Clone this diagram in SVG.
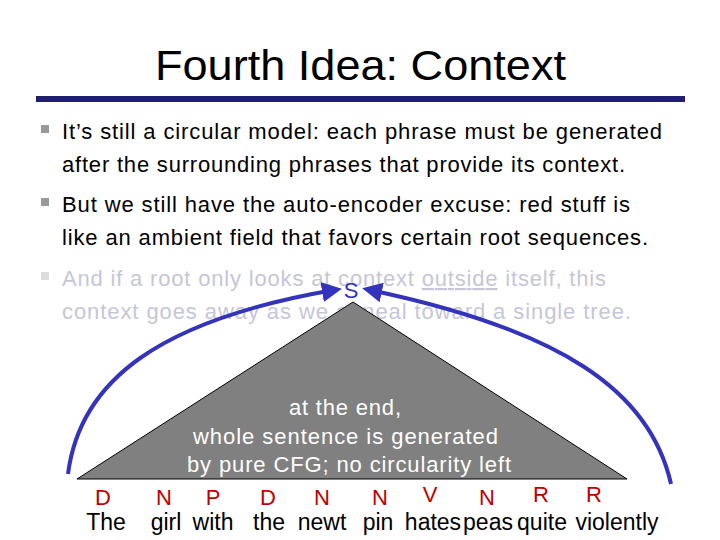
<svg xmlns="http://www.w3.org/2000/svg" width="720" height="540" viewBox="0 0 720 540">
<style>
text{font-family:"Liberation Sans",Arial,sans-serif}
.b{font-size:22px;fill:#000}
.f{font-size:22px;fill:#c6c6d8}
.bul{fill:#999}
.t{font-size:22px;fill:#c00000;text-anchor:middle}
.w{font-size:23px;fill:#000;text-anchor:middle}
.in{font-size:22px;fill:#fff}
.arr{fill:none;stroke:#3333bb;stroke-width:4}
</style>
<defs><marker id="ah" markerWidth="5" markerHeight="5" refX="3" refY="2.5" orient="auto"><path d="M0,0L5,2.5L0,5z" fill="#3333bb"/></marker></defs>
<rect width="720" height="540" fill="#fff"/>
<g id="title"><text x="155" y="80" font-size="43" textLength="411" lengthAdjust="spacingAndGlyphs">Fourth Idea:  Context</text>
<rect x="36" y="96" width="649" height="6" fill="#1f1f6e"/></g>
<g id="bullets">
<rect class="bul" x="41" y="125" width="8" height="8"/>
<text class="b" x="62" y="139" textLength="600">It’s still a circular model: each phrase must be generated</text>
<text class="b" x="62" y="172" textLength="563">after the surrounding phrases that provide its context.</text>
<rect class="bul" x="41" y="198" width="8" height="8"/>
<text class="b" x="62" y="212" textLength="568">But we still have the auto-encoder excuse: red stuff is</text>
<text class="b" x="62" y="245" textLength="586">like an ambient field that favors certain root sequences.</text>
<rect x="41" y="272" width="8" height="8" fill="#ddd"/>
<text class="f" x="62" y="286" textLength="544">And if a root only looks at context <tspan text-decoration="underline">outside</tspan> itself, this</text>
<text class="f" x="62" y="319" textLength="569">context goes away as we anneal toward a single tree.</text>
</g>
<g id="connectors">
<path class="arr" d="M68,474 C80,380 160,320 334,290" marker-end="url(#ah)"/>
<path class="arr" d="M671,484 C650,390 560,330 370,290" marker-end="url(#ah)"/>
</g>
<g id="tree">
<polygon points="353,302 77,479 627,479" fill="#808080" stroke="#000" stroke-width="1"/>
<text class="in" x="289" y="415" textLength="112">at the end,</text>
<text class="in" x="193" y="444" textLength="305">whole sentence is generated</text>
<text class="in" x="187" y="472" textLength="324">by pure CFG; no circularity left</text>
<text x="351" y="298" font-size="22" fill="#3333bb" text-anchor="middle">S</text>
</g>
<g id="tags">
<text class="t" x="103" y="505">D</text><text class="t" x="164" y="505">N</text><text class="t" x="213" y="505">P</text>
<text class="t" x="268" y="505">D</text><text class="t" x="322" y="505">N</text><text class="t" x="380" y="505">N</text>
<text class="t" x="430" y="502">V</text><text class="t" x="487" y="505">N</text><text class="t" x="541" y="502">R</text><text class="t" x="594" y="502">R</text>
</g>
<g id="words">
<text class="w" x="106" y="530">The</text><text class="w" x="166" y="530">girl</text><text class="w" x="213" y="530">with</text>
<text class="w" x="269" y="530">the</text><text class="w" x="322" y="530">newt</text><text class="w" x="378" y="530">pin</text>
<text class="w" x="433" y="530">hates</text><text class="w" x="488" y="530">peas</text><text class="w" x="542" y="530">quite</text>
<text class="w" x="617" y="530">violently</text>
</g>
</svg>
